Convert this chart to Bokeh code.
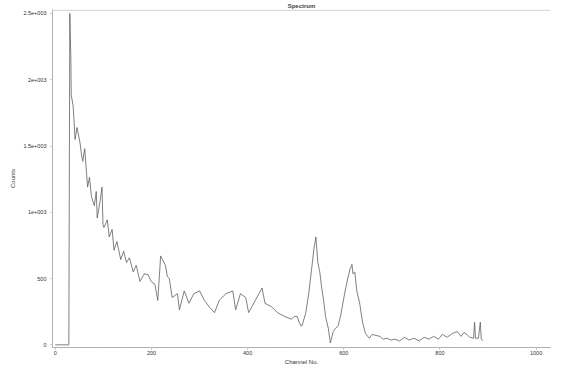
from bokeh.plotting import figure
from bokeh.models import Range1d, FixedTicker, Span
from bokeh.embed import file_html
from bokeh.resources import INLINE

# Spectrum data (channel, counts)
channels = [0, 28, 30, 32, 33, 37, 41, 45, 51, 55, 57, 61, 65, 67, 71, 75, 81, 85, 87, 93, 97, 99,
            101, 108, 112, 118, 122, 128, 136, 142, 148, 154, 162, 168, 176, 185, 193, 199, 207,
            213, 219, 223, 229, 233, 237, 243, 254, 258, 268, 278, 288, 300, 310, 320, 331, 341,
            355, 369, 375, 385, 396, 402, 416, 430, 436, 450, 462, 477, 491, 497, 503, 507, 511,
            513, 521, 527, 533, 538, 542, 546, 550, 554, 558, 562, 568, 572, 578, 582, 588, 594,
            598, 604, 609, 613, 617, 619, 623, 627, 633, 639, 645, 653, 659, 667, 675, 682, 690,
            698, 706, 716, 726, 736, 746, 757, 767, 777, 787, 797, 805, 815, 826, 836, 844, 850,
            856, 862, 870, 872, 874, 880, 884, 886, 890]
counts = [0, 0, 2500, 2190, 1886, 1800, 1550, 1640, 1530, 1420, 1385, 1480, 1285, 1190, 1265, 1120,
          1050, 1157, 957, 1085, 1190, 907, 885, 943, 814, 871, 714, 779, 643, 707, 621, 657, 550,
          600, 479, 536, 529, 479, 457, 336, 671, 643, 600, 514, 500, 357, 386, 264, 407, 314,
          386, 407, 336, 286, 243, 336, 386, 407, 264, 386, 357, 243, 336, 429, 314, 286, 243,
          214, 193, 214, 214, 171, 143, 143, 243, 386, 571, 729, 814, 621, 550, 429, 336, 214,
          121, 14, 100, 121, 143, 229, 314, 429, 514, 571, 607, 536, 550, 407, 314, 171, 86, 50,
          79, 71, 64, 43, 50, 36, 43, 29, 57, 36, 50, 29, 57, 43, 64, 43, 79, 57, 86, 100, 64, 93,
          79, 57, 50, 171, 50, 50, 171, 43, 29]

x_ticks = [0, 200, 400, 600, 800, 1000]
y_ticks = [0, 500, 1000, 1500, 2000, 2500]
y_tick_labels = {0: "0", 500: "500", 1000: "1e+003", 1500: "1.5e+003", 2000: "2e+003", 2500: "2.5e+003"}

p = figure(width=552, height=367, output_backend="svg", toolbar_location=None,
           x_range=Range1d(-6, 1030), y_range=Range1d(-20, 2530),
           title="Spectrum", min_border_left=52, min_border_right=2,
           min_border_top=0, min_border_bottom=0)

p.title.text_font = "Liberation Sans"
p.title.text_font_size = "6px"
p.title.text_font_style = "bold"
p.title.align = "center"
p.title.standoff = 1

p.line(channels, counts, line_color="#606060", line_width=0.8)

p.grid.visible = False
p.outline_line_color = None
p.background_fill_color = "white"
p.border_fill_color = "white"

p.add_layout(Span(location=2525, dimension="width", line_color="#c8c8c8", line_width=1))

for ax in (p.xaxis[0], p.yaxis[0]):
    ax.axis_line_color = "#b0b0b0"
    ax.major_tick_line_color = "#b0b0b0"
    ax.minor_tick_line_color = "#d0d0d0"
    ax.major_tick_out = 2
    ax.major_tick_in = 0
    ax.minor_tick_out = 1
    ax.minor_tick_in = 0
    ax.major_label_text_font = "Liberation Sans"
    ax.major_label_text_font_size = "5.5px"
    ax.major_label_text_color = "#333333"
    ax.major_label_standoff = 1
    ax.axis_label_text_font = "Liberation Sans"
    ax.axis_label_text_font_size = "6px"
    ax.axis_label_text_font_style = "normal"
    ax.axis_label_text_color = "#333333"
    ax.axis_label_standoff = 1

p.xaxis[0].ticker = FixedTicker(ticks=x_ticks, minor_ticks=list(range(0, 1030, 50)))
p.yaxis[0].ticker = FixedTicker(ticks=y_ticks, minor_ticks=list(range(0, 2530, 250)))
p.yaxis[0].major_label_overrides = y_tick_labels
p.yaxis[0].major_label_standoff = 4
p.yaxis[0].axis_label_standoff = 4
p.xaxis[0].axis_label = "Channel No."
p.yaxis[0].axis_label = "Counts"

open("out.html", "w").write(file_html(p, INLINE))
